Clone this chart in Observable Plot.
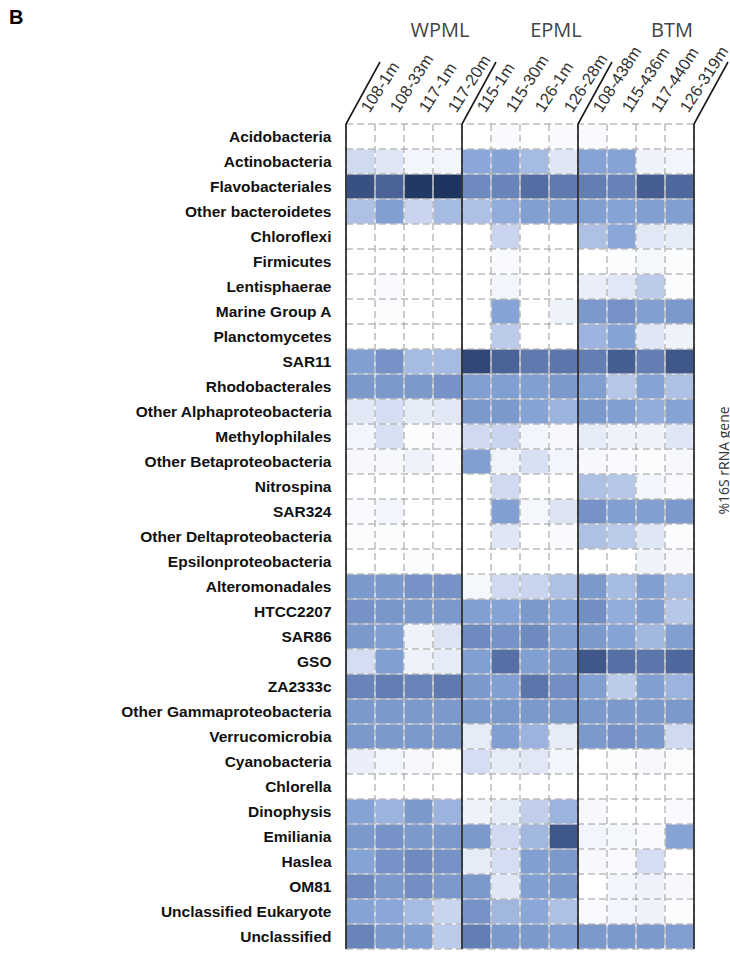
<!DOCTYPE html>
<html>
<head>
<meta charset="utf-8">
<script src="https://cdn.jsdelivr.net/npm/d3@7"></script>
<script src="https://cdn.jsdelivr.net/npm/@observablehq/plot@0.6"></script>
<style>
  html, body { margin: 0; padding: 0; background: #fff; }
  #wrap { position: relative; width: 730px; height: 953px; overflow: hidden; }
  #panel { position: absolute; left: 9px; top: 6px; font: bold 20px "Liberation Sans", Arial, sans-serif; color: #000; }
  #chart svg { display: block; }
  g[aria-label="y-axis tick label"] text { font-weight: bold; }
</style>
</head>
<body>
<div id="wrap">
  <div id="chart"></div>
  <div id="panel">B</div>
</div>
<script>
// Taxa (rows), top to bottom
const taxa = [
  "Acidobacteria", "Actinobacteria", "Flavobacteriales", "Other bacteroidetes",
  "Chloroflexi", "Firmicutes", "Lentisphaerae", "Marine Group A", "Planctomycetes",
  "SAR11", "Rhodobacterales", "Other Alphaproteobacteria", "Methylophilales",
  "Other Betaproteobacteria", "Nitrospina", "SAR324", "Other Deltaproteobacteria",
  "Epsilonproteobacteria", "Alteromonadales", "HTCC2207", "SAR86", "GSO", "ZA2333c",
  "Other Gammaproteobacteria", "Verrucomicrobia", "Cyanobacteria", "Chlorella",
  "Dinophysis", "Emiliania", "Haslea", "OM81", "Unclassified Eukaryote", "Unclassified"
];

// Sample groups and their samples (station-depth)
const groups = ["WPML", "EPML", "BTM"];
const wpmlSamples = ["108-1m", "108-33m", "117-1m", "117-20m"];
const epmlSamples = ["115-1m", "115-30m", "126-1m", "126-28m"];
const btmSamples  = ["108-438m", "115-436m", "117-440m", "126-319m"];

// Relative abundance index (0–100) per taxon, one row per taxon, one column per sample
const wpml = [
  [0,0,0,0], [22,15,6,6], [88,80,98,100], [35,52,25,38], [0,0,0,0], [0,0,0,0],
  [0,3,0,0], [0,2,0,0], [0,0,0,0], [52,58,38,38], [55,55,55,58], [14,20,12,14],
  [6,18,2,4], [4,4,8,3], [0,0,0,0], [3,6,0,0], [2,2,0,0], [0,0,2,0],
  [55,55,58,58], [58,56,55,55], [55,52,8,16], [20,52,8,12], [65,68,65,70],
  [55,55,55,55], [55,55,55,55], [10,6,4,2], [0,0,0,0], [50,42,55,42],
  [55,58,55,55], [50,58,62,58], [62,55,60,55], [50,48,38,25], [65,55,52,30]
];
const epml = [
  [0,3,0,3], [48,50,38,15], [62,65,76,70], [35,45,52,52], [0,25,0,0], [0,3,0,0],
  [0,6,0,0], [0,50,0,8], [0,30,0,0], [92,80,70,72], [52,52,52,55], [55,55,50,42],
  [22,25,6,4], [52,7,18,6], [0,22,0,0], [0,52,5,16], [0,15,0,3], [0,0,0,0],
  [5,22,25,35], [52,50,55,50], [62,58,62,52], [52,75,52,55], [55,52,72,60],
  [55,55,55,55], [12,52,42,12], [20,12,14,6], [0,0,0,0], [8,12,28,42],
  [55,22,40,85], [12,20,52,55], [55,15,52,55], [58,40,48,35], [68,55,55,52]
];
const btm = [
  [3,0,0,0], [50,50,8,6], [68,66,82,78], [52,50,52,52], [35,48,14,12], [0,2,5,2],
  [10,14,30,2], [55,58,52,55], [42,50,15,8], [68,82,68,85], [52,32,50,35], [55,52,45,50],
  [12,8,8,15], [4,3,2,4], [35,32,6,3], [58,52,52,55], [35,30,15,2], [0,0,8,4],
  [55,38,52,38], [60,45,52,32], [55,50,40,52], [85,75,72,78], [52,30,52,42],
  [55,55,55,55], [55,58,55,22], [0,2,4,2], [0,0,0,0], [4,0,0,3],
  [6,5,3,50], [4,3,20,0], [0,6,8,4], [3,6,8,2], [55,55,55,52]
];

const legendTitle = "%16S rRNA gene";

// Tidy table built from the arrays above
const groupSamples = [wpmlSamples, epmlSamples, btmSamples];
const groupValues = [wpml, epml, btm];
const samples = groupSamples.flat();
const cells = [];
taxa.forEach((taxon, i) => {
  groupSamples.forEach((list, g) => {
    list.forEach((sample, j) => {
      cells.push({taxon, sample, group: groups[g], value: groupValues[g][i][j]});
    });
  });
});

const sansFont = "'Liberation Sans', Arial, Helvetica, sans-serif";
const titleFont = "'Open Sans', 'Liberation Sans', sans-serif";

const plot = Plot.plot({
  width: 730,
  height: 953,
  marginLeft: 343,
  marginRight: 34,
  marginTop: 120,
  marginBottom: 1,
  style: {fontFamily: sansFont, background: "white", overflow: "visible"},
  x: {domain: samples, padding: 0, axis: null},
  y: {domain: taxa, padding: 0, axis: null},
  color: {
    type: "linear",
    domain: [0, 25, 50, 75, 100],
    range: ["#ffffff", "#c9d5ee", "#86a3d6", "#566fa5", "#1e3461"],
    clamp: true
  },
  marks: [
    Plot.cell(cells, {x: "sample", y: "taxon", fill: "value", inset: 0}),
    Plot.axisY({tickSize: 0, tickPadding: 12, fontSize: 15.5, fontWeight: "bold", fill: "#111", label: null}),
    Plot.text(samples, {
      x: d => d, text: d => d, frameAnchor: "top", rotate: -57,
      textAnchor: "start", lineAnchor: "middle", dx: 4, dy: -10,
      fontSize: 16.5, fill: "#333", fontFamily: sansFont
    }),
    Plot.text(groups, {
      x: (d, i) => groupSamples[i][2], text: d => d, frameAnchor: "top",
      textAnchor: "middle", lineAnchor: "middle",
      dx: 21, dy: -90, fontSize: 20, fill: "#444", fontFamily: titleFont
    }),
    Plot.text([legendTitle], {
      text: d => d, frameAnchor: "right", rotate: -90,
      textAnchor: "middle", lineAnchor: "middle",
      dx: 28, dy: -76, fontSize: 14, fill: "#333", fontFamily: titleFont
    })
  ]
});

// Grid overlay: dashed cell borders and solid group separators, positioned from the plot's scales
const xs = plot.scale("x"), ys = plot.scale("y");
const bw = xs.bandwidth, bh = ys.bandwidth;
const xEdges = samples.map(s => xs.apply(s)).concat([xs.apply(samples[samples.length - 1]) + bw]);
const yEdges = taxa.map(t => ys.apply(t)).concat([ys.apply(taxa[taxa.length - 1]) + bh]);
const x0 = xEdges[0], x1 = xEdges[xEdges.length - 1];
const y0 = yEdges[0], y1 = yEdges[yEdges.length - 1];

const svg = d3.select(plot);
const grid = svg.append("g").attr("aria-label", "grid");

// white under-stroke, then grey dashes
for (const [stroke, width, dash] of [["#ffffff", 1.2, null], ["#9a9a9a", 1, "7,4"]]) {
  grid.selectAll(null).data(yEdges).join("line")
    .attr("x1", x0).attr("x2", x1).attr("y1", d => d).attr("y2", d => d)
    .attr("stroke", stroke).attr("stroke-width", width).attr("stroke-dasharray", dash);
  grid.selectAll(null).data(xEdges).join("line")
    .attr("y1", y0).attr("y2", y1).attr("x1", d => d).attr("x2", d => d)
    .attr("stroke", stroke).attr("stroke-width", width).attr("stroke-dasharray", dash);
}

// group separators rise from the bottom and bend toward the rotated labels
const sepEdges = [0, 4, 8, 12].map(i => xEdges[i]);
const slantDx = 34, slantDy = 62;
grid.selectAll(null).data(sepEdges).join("path")
  .attr("d", x => `M${x},${y1}L${x},${y0}L${x + slantDx},${y0 - slantDy}`)
  .attr("fill", "none").attr("stroke", "#1a1a1a").attr("stroke-width", 1.6);

document.getElementById("chart").append(plot);
</script>
</body>
</html>
